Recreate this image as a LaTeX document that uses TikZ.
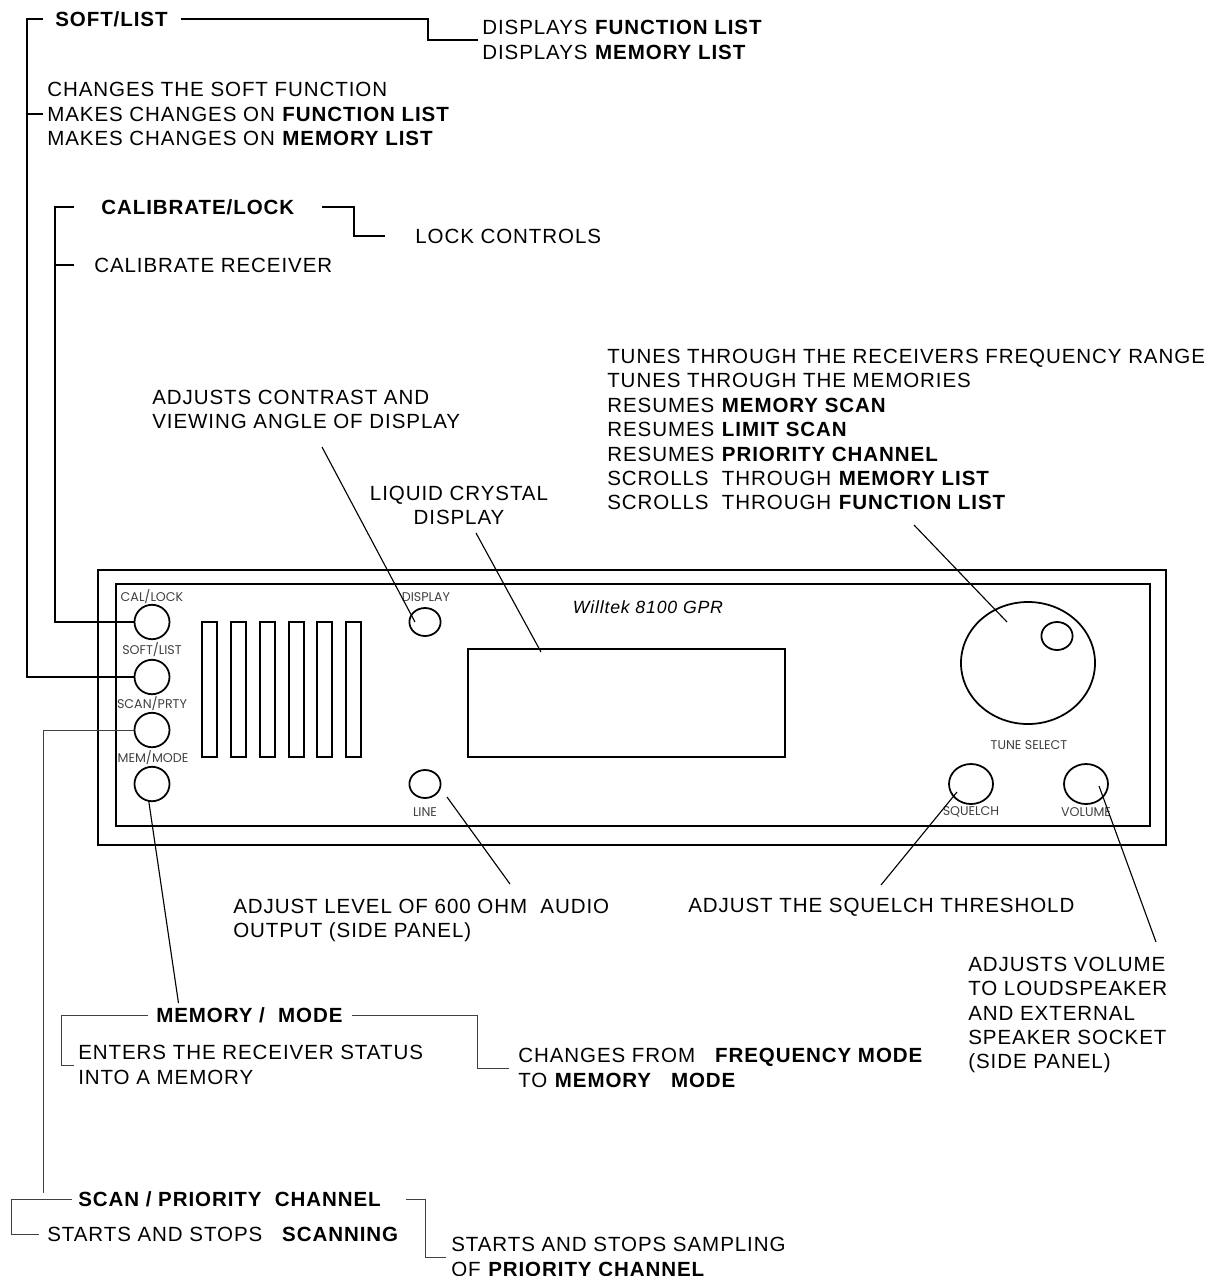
\documentclass[tikz,border=0pt]{standalone}
\usepackage{fontspec}
\setmainfont{Liberation Sans}[LetterSpace=4.5]
\newfontfamily\panelfont{Poppins}
\usetikzlibrary{shapes.geometric, calc}

\begin{document}
\begin{tikzpicture}[
  x=0.025cm, y=-0.025cm,
  desc/.style={font=\fontsize{14.6pt}{17.4pt}\selectfont, align=left, anchor=west,
               inner ysep=0pt, inner xsep=0.1cm, text=black},
  panel/.style={draw=black, line width=1.25pt},
  btn/.style={ellipse, draw=black, line width=1.25pt, inner sep=0pt},
  tag/.style={font=\panelfont\fontsize{9pt}{10pt}\selectfont, text=black!75, inner sep=0pt},
  wire/.style={draw=black, line width=0.8pt},
  thinwire/.style={draw=black!75, line width=0.7pt}
]
  \useasboundingbox (0,0) rectangle (1221,1276);

  % front panel
  \node[panel, rectangle, inner sep=0pt, minimum width=26.675cm, minimum height=6.875cm] (outer) at (632,707.5) {};
  \node[panel, rectangle, inner sep=0pt, minimum width=25.85cm, minimum height=6.05cm] (inner) at (633,705) {};
  \node[panel, rectangle, inner sep=0pt, minimum width=7.925cm, minimum height=2.7cm] (lcd) at (626.5,703) {};
  \foreach \px/\n in {209.5/a, 238.5/b, 267.5/c, 296.5/d, 324.5/e, 353.5/f}
    \node[panel, rectangle, inner sep=0pt, minimum width=0.38cm, minimum height=3.375cm] (slat\n) at (\px,689.5) {};

  % buttons
  \node[btn, minimum width=0.875cm, minimum height=0.86cm] (calbtn) at (152,622) {};
  \node[btn, minimum width=0.875cm, minimum height=0.86cm] (softbtn) at (152,677) {};
  \node[btn, minimum width=0.875cm, minimum height=0.86cm] (scanbtn) at (152,730) {};
  \node[btn, minimum width=0.875cm, minimum height=0.86cm] (membtn) at (152,784) {};
  \node[btn, minimum width=0.78cm, minimum height=0.7cm] (dispbtn) at (425,622) {};
  \node[btn, minimum width=0.78cm, minimum height=0.7cm] (linebtn) at (425,784) {};
  \node[btn, minimum width=3.35cm, minimum height=3.05cm] (tunebtn) at (1028,663) {};
  \node[btn, minimum width=0.78cm, minimum height=0.7cm] (tuneknob) at (1057,636) {};
  \node[btn, minimum width=1.1cm, minimum height=1cm] (sqlbtn) at (971,784) {};
  \node[btn, minimum width=1.1cm, minimum height=1cm] (volbtn) at (1086,784) {};

  % panel legends
  \node[tag] (caltag) at (152,597) {CAL/LOCK};
  \node[tag] (softtag) at (152,650) {SOFT/LIST};
  \node[tag] (scantag) at (152,704) {SCAN/PRTY};
  \node[tag] (memtag) at (153,758) {MEM/MODE};
  \node[tag] (disptag) at (426,597) {DISPLAY};
  \node[tag] (linetag) at (425,812) {LINE};
  \node[tag] (tunetag) at (1029,745) {TUNE SELECT};
  \node[tag] (sqltag) at (971,812) {SQUELCH};
  \node[tag] (voltag) at (1086,812) {VOLUME};
  \node[font=\fontsize{12.6pt}{14pt}\selectfont\itshape, inner sep=0pt] (model) at (648,607) {Willtek 8100 GPR};

  % soft/list
  \node[desc, inner xsep=0.3cm] (softhead) at (43,19) {\textbf{SOFT/LIST}};
  \node[desc] (softdisp) at (478,40) {DISPLAYS \textbf{FUNCTION LIST}\\DISPLAYS \textbf{MEMORY LIST}};
  \node[desc] (softchg) at (43,114) {CHANGES THE SOFT FUNCTION\\MAKES CHANGES ON \textbf{FUNCTION LIST}\\MAKES CHANGES ON \textbf{MEMORY LIST}};
  \coordinate (softtop) at (27,19);
  \coordinate (softstep) at (428,40);
  \draw[wire] (softbtn.west) -| (softtop) -- (softhead.west);
  \draw[wire] (softtop |- softchg.west) -- (softchg.west);
  \draw[wire] (softhead.east) -| (softstep) -- (softdisp.west);

  % calibrate/lock
  \node[desc, inner xsep=0.675cm] (calhead) at (74,207) {\textbf{CALIBRATE/LOCK}};
  \node[desc, inner xsep=0.75cm] (callock) at (385,236) {LOCK CONTROLS};
  \node[desc, inner xsep=0.5cm] (calrecv) at (74,265) {CALIBRATE RECEIVER};
  \coordinate (caltop) at (55,207);
  \coordinate (calstep) at (354,236);
  \draw[wire] (calbtn.west) -| (caltop) -- (calhead.west);
  \draw[wire] (caltop |- calrecv.west) -- (calrecv.west);
  \draw[wire] (calhead.east) -| (calstep) -- (callock.west);

  % memory/mode
  \node[desc, inner xsep=0.2cm] (memhead) at (148,1015) {\textbf{MEMORY /\ \ MODE}};
  \node[desc] (memstore) at (74,1065) {ENTERS THE RECEIVER STATUS\\INTO A MEMORY};
  \node[desc, inner xsep=0.225cm] (memchg) at (509,1068) {CHANGES FROM\ \ \ \textbf{FREQUENCY MODE}\\TO \textbf{MEMORY\ \ \ MODE}};
  \coordinate (memtop) at (61,1015);
  \coordinate (memstep) at (477.5,1068);
  \draw[thinwire] (memhead.west) -| (memtop |- memstore.west) -- (memstore.west);
  \draw[thinwire] (memhead.east) -| (memstep) -- (memchg.west);
  \draw[wire] (membtn.260) -- ([shift={(30.5,-4)}]memhead.north west);

  % scan/priority
  \node[desc, inner xsep=0.15cm] (scanhead) at (72,1199) {\textbf{SCAN / PRIORITY\ \ CHANNEL}};
  \node[desc, inner xsep=0.2cm] (scanstop) at (39,1234) {STARTS AND STOPS\ \ \ \textbf{SCANNING}};
  \node[desc, inner xsep=0.125cm] (scanprio) at (446,1257) {STARTS AND STOPS SAMPLING\\OF \textbf{PRIORITY CHANNEL}};
  \coordinate (scantop) at (11,1199);
  \coordinate (scanend) at (43,1193);
  \coordinate (scanstep) at (425,1257);
  \draw[thinwire] (scanbtn.west) -| (scanend);
  \draw[thinwire] (scanhead.west) -| (scantop |- scanstop.west) -- (scanstop.west);
  \draw[thinwire] ([xshift=0.45cm]scanhead.east) -| (scanstep) -- (scanprio.west);

  % leaders to the front panel
  \node[desc] (tunetext) at (603,429.5) {TUNES THROUGH THE RECEIVERS FREQUENCY RANGE\\TUNES THROUGH THE MEMORIES\\RESUMES \textbf{MEMORY SCAN}\\RESUMES \textbf{LIMIT SCAN}\\RESUMES \textbf{PRIORITY CHANNEL}\\SCROLLS\ \ THROUGH \textbf{MEMORY LIST}\\SCROLLS\ \ THROUGH \textbf{FUNCTION LIST}};
  \node[desc] (disptext) at (148,409.5) {ADJUSTS CONTRAST AND\\VIEWING ANGLE OF DISPLAY};
  \node[desc, align=center, anchor=center] (lcdtext) at (459,505.5) {LIQUID CRYSTAL\\DISPLAY};
  \node[desc] (linetext) at (229,920.5) {ADJUST LEVEL OF 600 OHM\ \ AUDIO\\OUTPUT (SIDE PANEL)};
  \node[desc] (sqltext) at (684,907) {ADJUST THE SQUELCH THRESHOLD};
  \node[desc] (voltext) at (964,1015) {ADJUSTS VOLUME\\TO LOUDSPEAKER\\AND EXTERNAL\\SPEAKER SOCKET\\(SIDE PANEL)};
  \draw[wire] (322,447) -- ([xshift=-0.25cm]dispbtn.center);
  \draw[wire] (476,533) -- ([xshift=-2.1375cm,yshift=1.275cm]lcd.center);
  \draw[wire] (914,525) -- ([xshift=-0.525cm,yshift=1.025cm]tunebtn.center);
  \draw[wire] ([xshift=0.55cm,yshift=-0.325cm]linebtn.center) -- (510,884);
  \draw[wire] ([xshift=-0.35cm,yshift=-0.2cm]sqlbtn.center) -- (881,885);
  \draw[wire] ([xshift=0.325cm,yshift=-0.05cm]volbtn.center) -- (1156,942);
\end{tikzpicture}
\end{document}
